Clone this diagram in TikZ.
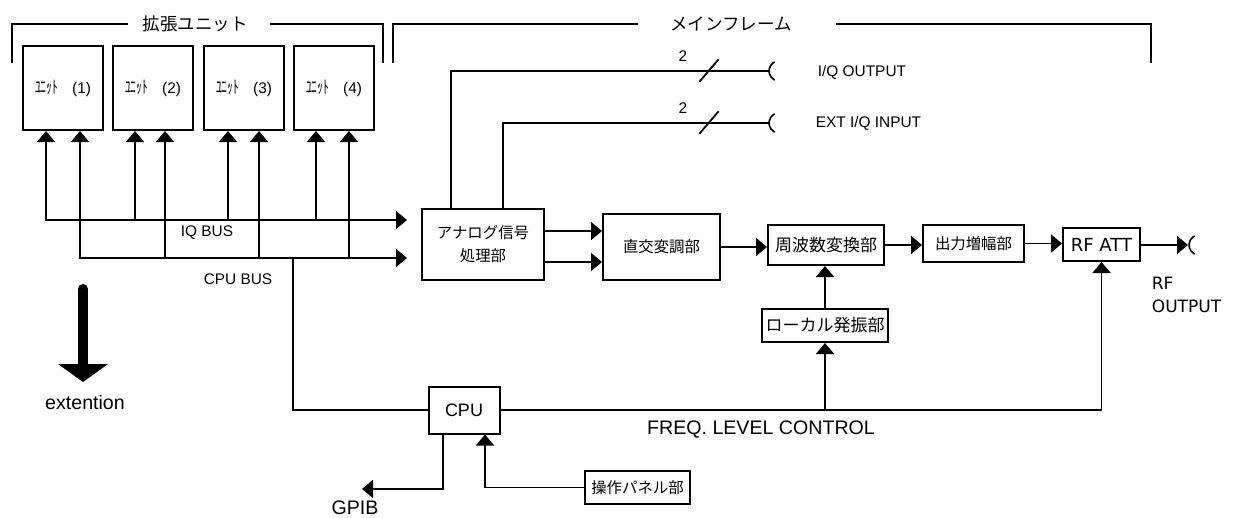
\documentclass[tikz,border=0pt]{standalone}
\usepackage{fontspec}
\usepackage{tikz}
\setmainfont{Liberation Sans}
\newfontfamily\jpfont{Noto Sans CJK JP}
\newfontfamily\jpnarrow[FakeStretch=0.66]{Noto Sans CJK JP}
\newfontfamily\dvfont{DejaVu Sans}
\usetikzlibrary{arrows.meta,positioning}

\tikzset{
  blk/.style={draw, line width=2pt, inner sep=0pt, align=center,
    font=\jpfont\fontsize{15.4}{23}\selectfont},
  unitbox/.style={blk, minimum width=80pt, minimum height=84pt,
    font=\fontsize{15.4}{18}\selectfont},
  arr/.style={-{Triangle[width=18pt,length=11pt]}},
  lbl/.style={inner sep=0pt, font=\fontsize{15.4}{18}\selectfont},
  biglbl/.style={inner sep=0pt, font=\fontsize{19.6}{23}\selectfont},
  title/.style={inner sep=0pt, font=\jpfont\fontsize{17.5}{20}\selectfont},
  bracket/.style={line width=1.5pt}
}
\newcommand\jack[1]{\draw[line width=1.6pt] ([shift={(6,8.66)}]#1) arc[start angle=120,end angle=240,radius=10];}

\begin{document}
\begin{tikzpicture}[x=1pt,y=-1pt,line width=1.8pt,line cap=rect]
  \useasboundingbox (0,0) rectangle (1234,517);

  \node[title] (exttitle) at (195,24) {拡張ユニット};
  \node[title] (maintitle) at (731,24) {メインフレーム};
  \draw[bracket] (12,62) |- ([xshift=-14.5pt]exttitle.west);
  \draw[bracket] ([xshift=22pt]exttitle.east) -| (383,62);
  \draw[bracket] (393,62) |- ([xshift=-32pt]maintitle.west);
  \draw[bracket] ([xshift=44pt]maintitle.east) -| (1151,62);

  \foreach \i/\cx in {1/63,2/153,3/244,4/334}
    \node[unitbox] (u\i) at (\cx,88) {{\jpnarrow\fontsize{17.5}{18}\selectfont ﾕﾆｯﾄ}\hspace{14pt}(\i)};

  \node[blk, minimum width=122pt, minimum height=71pt] (ana) at (483,244.5) {アナログ信号\\処理部};
  \node[blk, minimum width=117pt, minimum height=66pt] (quad) at (661.5,247) {直交変調部};
  \node[blk, minimum width=116pt, minimum height=40pt, font=\jpfont\fontsize{17}{20}\selectfont] (conv) at (826,245) {周波数変換部};
  \node[blk, minimum width=101pt, minimum height=37pt] (amp) at (973.5,243.5) {出力増幅部};
  \node[blk, minimum width=77pt, minimum height=33pt, font=\dvfont\fontsize{18}{20}\selectfont] (att) at (1101.5,244.5) {RF ATT};
  \node[blk, minimum width=126pt, minimum height=33pt, font=\jpfont\fontsize{17}{20}\selectfont] (lo) at (825,325.5) {ローカル発振部};
  \node[blk, minimum width=71pt, minimum height=47pt, font=\fontsize{18}{20}\selectfont] (cpu) at (464,410) {CPU};
  \node[blk, minimum width=105pt, minimum height=33pt] (pnl) at (637.5,487.5) {操作パネル部};

  \coordinate (iqL) at (46,220);
  \coordinate (cpuL) at (80,258);
  \coordinate (iqR) at (407,220);
  \coordinate (cpuR) at (407,258);
  \draw[arr] (iqL) -- (iqR);
  \draw[arr] (cpuL) -- (cpuR);
  \foreach \i/\a/\b in {1/46/80,2/135/165,3/228/259,4/316/349} {
    \draw[arr] (\a,220) -- (\a,220 |- u\i.south);
    \draw[arr] (\b,258) -- (\b,258 |- u\i.south);
  }
  \node[lbl] (iqbus) at (207,233) {IQ BUS};
  \node[lbl] (cpubus) at (238,279) {CPU BUS};

  \coordinate (extA) at (83,289);
  \coordinate (extB) at (83,382);
  \draw[line width=10pt, line cap=round, -{Triangle[width=50pt,length=18pt,line width=0pt]}] (extA) -- (extB);
  \node[biglbl] (ext) at (85,402) {extention};

  \coordinate (iqo) at (768,71);
  \coordinate (exti) at (768,123);
  \draw ([xshift=-32pt]ana.north) |- (iqo);
  \draw ([xshift=20pt]ana.north) |- (exti);
  \jack{iqo}
  \jack{exti}
  \draw (700,81) -- (718,60);
  \draw (700,133) -- (718,112);
  \node[lbl] (n2a) at (683,56) {2};
  \node[lbl] (n2b) at (683,108) {2};
  \node[lbl, anchor=west] (iqolbl) at (817,72) {I/Q OUTPUT};
  \node[lbl, anchor=west] (extilbl) at (815,123) {EXT I/Q INPUT};

  \coordinate (a1) at ([yshift=13.5pt]ana.east);
  \coordinate (a2) at ([yshift=-17.5pt]ana.east);
  \draw[arr] (a1) -- (a1 -| quad.west);
  \draw[arr] (a2) -- (a2 -| quad.west);
  \draw[arr] (quad.east) -- (quad.east -| conv.west);
  \draw[arr] (conv.east) -- (conv.east -| amp.west);
  \draw[arr] (amp.east) -- (amp.east -| att.west);
  \coordinate (rfo) at (1188,245);
  \draw[arr] (att.east |- rfo) -- (rfo);
  \jack{rfo}
  \node[anchor=north west, inner sep=0pt, align=left, font=\dvfont\fontsize{17}{23}\selectfont] (rfout) at (1151,276) {RF\\OUTPUT};

  \draw[arr] (lo.north) -- (lo.north |- conv.south);
  \coordinate (cbr) at (293,258);
  \draw (cbr) |- (cpu.west);
  \draw[arr] (cpu.east) -| (att.south);
  \draw[arr] (lo.south |- cpu.east) -- (lo.south);
  \node[biglbl] (freq) at (761,430) {FREQ. LEVEL CONTROL};

  \coordinate (gpibend) at (362,489);
  \draw[arr] ([xshift=-21pt]cpu.south) |- (gpibend);
  \draw[arr] (pnl.west) -| ([xshift=21pt]cpu.south);
  \node[biglbl] (gpib) at (355,508) {GPIB};
\end{tikzpicture}
\end{document}
